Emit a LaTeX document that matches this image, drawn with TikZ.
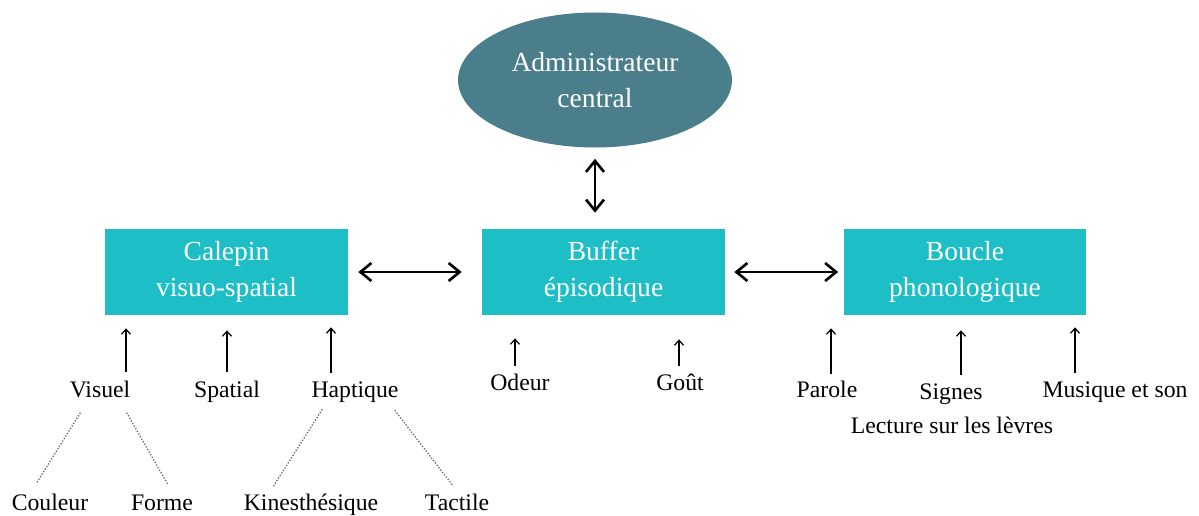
\documentclass[tikz,border=0pt]{standalone}
\usepackage{fontspec}
\setmainfont{Liberation Serif}
\usetikzlibrary{shapes.geometric,arrows.meta}

\definecolor{admin}{RGB}{74,126,139}
\definecolor{slave}{RGB}{30,190,199}

\tikzset{
    slavebox/.style={fill=slave, text=white, minimum width=4.86cm, minimum height=1.72cm,
        align=center, font=\fontsize{15.7}{20.5}\selectfont, inner sep=0pt},
    lbl/.style={anchor=base, font=\fontsize{13.5}{16}\selectfont, inner sep=0pt},
    link/.style={line width=1.5pt, {Straight Barb[length=2.2mm, width=3.6mm]}-{Straight Barb[length=2.2mm, width=3.6mm]}},
    feed/.style={line width=0.7pt, -{Straight Barb[length=1mm, width=1.8mm]}, shorten <=0.16cm, shorten >=0.26cm},
    sub/.style={densely dotted, gray!70!black, line width=0.7pt}
}

\begin{document}
\begin{tikzpicture}[x=0.02cm, y=-0.02cm]
        \useasboundingbox (0,0) rectangle (1199,515);

        % central executive
        \node[ellipse, fill=admin, text=white, minimum width=5.48cm, minimum height=2.7cm,
            inner sep=0pt, align=center, font=\fontsize{15.7}{20.5}\selectfont] (admin) at (595,80)
            {Administrateur\\central};

        % slave systems
        \node[slavebox] (calepin) at (226.5,272) {Calepin\\visuo-spatial};
        \node[slavebox] (buffer) at (603.5,272) {Buffer\\épisodique};
        \node[slavebox] (boucle) at (965,272) {Boucle\\phonologique};

        \draw[link, shorten <=0.22cm, shorten >=0.32cm] (admin.south) -- (buffer.north -| admin.south);
        \draw[link, shorten <=0.2cm, shorten >=0.4cm] (calepin.east) -- (buffer.west);
        \draw[link, shorten <=0.18cm, shorten >=0.1cm] (buffer.east) -- (boucle.west);

        % inputs
        \node[lbl] (visuel) at (100,397) {Visuel};
        \node[lbl] (spatial) at (227,397) {Spatial};
        \node[lbl] (haptique) at (355,397) {Haptique};
        \node[lbl] (odeur) at (520,390) {Odeur};
        \node[lbl] (gout) at (680,390) {Goût};
        \node[lbl] (parole) at (827,397) {Parole};
        \node[lbl] (signes) at (951,399) {Signes};
        \node[lbl] (musique) at (1115,397) {Musique et son};
        \node[lbl] (lecture) at (952,433) {Lecture sur les lèvres};

        \coordinate (x1) at (126,0);
        \coordinate (x2) at (227,0);
        \coordinate (x3) at (331,0);
        \coordinate (x4) at (515,0);
        \coordinate (x5) at (679,0);
        \coordinate (x6) at (831,0);
        \coordinate (x7) at (961,0);
        \coordinate (x8) at (1075,0);

        \draw[feed] (x1 |- visuel.north) -- (x1 |- calepin.south);
        \draw[feed, shorten >=0.3cm] (x2 |- spatial.north) -- (x2 |- calepin.south);
        \draw[feed, shorten >=0.24cm] (x3 |- haptique.north) -- (x3 |- calepin.south);
        \draw[feed, shorten <=0.14cm, shorten >=0.46cm] (x4 |- odeur.north) -- (x4 |- buffer.south);
        \draw[feed, shorten <=0.14cm, shorten >=0.48cm] (x5 |- gout.north) -- (x5 |- buffer.south);
        \draw[feed, shorten <=0.12cm] (x6 |- parole.north) -- (x6 |- boucle.south);
        \draw[feed, shorten >=0.3cm] (x7 |- signes.north) -- (x7 |- boucle.south);
        \draw[feed, shorten >=0.24cm] (x8 |- musique.north) -- (x8 |- boucle.south);

        % sub-modalities
        \node[lbl] (couleur) at (50,510) {Couleur};
        \node[lbl] (forme) at (162,510) {Forme};
        \node[lbl] (kines) at (311,510) {Kinesthésique};
        \node[lbl] (tactile) at (457,510) {Tactile};

        \draw[sub] ([xshift=0.22cm, yshift=-0.3cm]visuel.south west) -- ([xshift=0.5cm, yshift=0.2cm]couleur.north west);
        \draw[sub] ([xshift=-0.08cm, yshift=-0.3cm]visuel.south east) -- ([xshift=0.74cm, yshift=0.2cm]forme.north west);
        \draw[sub] ([xshift=0.22cm, yshift=-0.14cm]haptique.south west) -- ([xshift=0.6cm, yshift=0.14cm]kines.north west);
        \draw[sub] ([xshift=-0.08cm, yshift=-0.16cm]haptique.south east) -- ([xshift=0.56cm, yshift=0.16cm]tactile.north west);

    \end{tikzpicture}
\end{document}
